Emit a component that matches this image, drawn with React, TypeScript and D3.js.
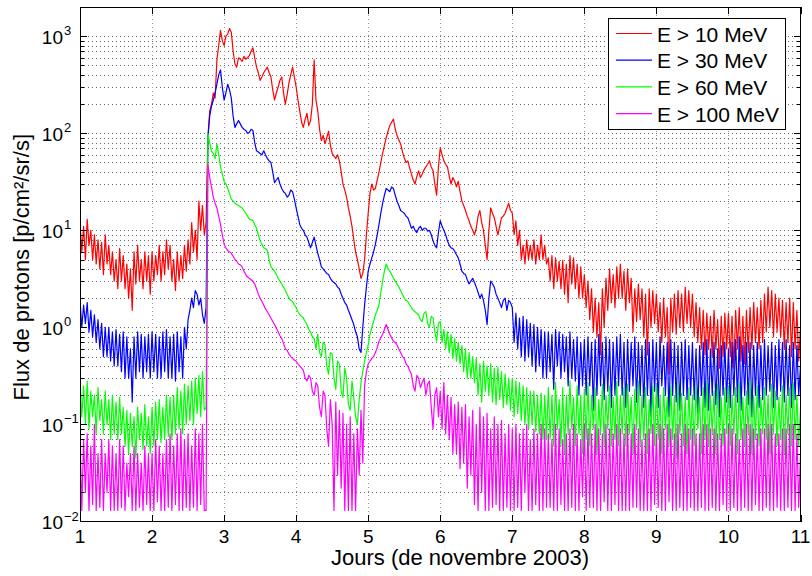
import * as d3 from "d3";

const dayStart = 1;
const dayStep = 0.025;

const xTicks = [1, 2, 3, 4, 5, 6, 7, 8, 9, 10, 11];
const yDecades = [-2, -1, 0, 1, 2, 3];
const labels = ["E > 10 MeV", "E > 30 MeV", "E > 60 MeV", "E > 100 MeV"];
const colors = ["#ff0000", "#0000ff", "#00ff00", "#ff00ff"];

const r10 = [
  12, 6, 11, 5, 13, 7, 10, 5, 9, 4.5, 8, 4, 7.5, 3.5, 9, 4.5, 7, 3.5, 6, 3, // 1.0
  5, 2.5, 6.5, 3, 5.5, 2.5, 4.5, 2, 4, 1.5, 6, 2.8, 7, 3, 5, 2.5, 6, 3, 5.5, 2.2, // 1.5
  6, 3, 5.5, 3.5, 7, 3, 6, 3.5, 8, 4, 7, 3, 5, 2.4, 6, 3, 5.5, 3.2, 7, 3.8, // 2.0
  8, 4.5, 12, 6, 10, 5, 20, 10, 18, 9, 12, 90, 170, 200, 260, 230, 570, 800, 1150, 900, // 2.5
  800, 1000, 1050, 1200, 1100, 700, 520, 480, 600, 580, 550, 620, 580, 600, 630, 700, 760, 600, 480, 420, // 3.0
  350, 380, 420, 450, 480, 420, 380, 280, 220, 260, 300, 350, 380, 260, 200, 250, 330, 400, 480, 380, // 3.5
  300, 220, 170, 130, 115, 140, 160, 120, 135, 200, 570, 220, 170, 110, 84, 95, 78, 90, 105, 75, // 4.0
  62, 58, 55, 60, 52, 40, 30, 26, 22, 17, 14, 11, 8, 6, 5, 4, 3.2, 3.6, 5, 9, // 4.5
  15, 24, 30, 26, 27, 33, 40, 50, 62, 75, 90, 105, 120, 130, 140, 110, 95, 85, 78, 65, // 5.0
  56, 50, 52, 44, 38, 33, 30, 36, 41, 35, 38, 42, 45, 48, 52, 45, 41, 30, 23, 45, // 5.5
  71, 60, 52, 48, 45, 36, 30, 35, 32, 28, 32, 25, 20, 18, 16, 14, 12.6, 11, 10, 9, // 6.0
  10.5, 14, 16, 12, 10, 7, 5, 10, 17, 15, 13.5, 11, 9, 11, 13.5, 14, 15, 17, 19, 16, // 6.5
  15, 9, 12.5, 7, 10, 5, 7, 4.5, 8, 5, 7, 5, 8, 4.5, 7, 5, 9, 5, 7, 4.5, // 7.0
  5.2, 3, 5.5, 2.5, 5.2, 3, 4.8, 2.5, 4.9, 2.2, 4.5, 1.8, 5.5, 2.8, 5.2, 2.5, 4.5, 2, 4.2, 2, // 7.5
  3.5, 1.6, 3, 1.2, 2.5, 0.9, 2, 0.8, 1.8, 0.52, 2.5, 1.0, 3.2, 1.5, 4, 1.8, 3.5, 1.6, 4.2, 2, // 8.0
  4.5, 2, 3.8, 1.5, 4, 1.8, 3.2, 0.9, 2.5, 1.15, 2.8, 1.2, 2.5, 0.8, 2.2, 0.52, 2.5, 1, 2.4, 1.1, // 8.5
  2.2, 0.9, 1.8, 0.7, 2, 0.8, 1.6, 0.33, 2, 0.9, 2.2, 0.85, 2.4, 1, 2.2, 0.9, 2.6, 1.1, 2.4, 1, // 9.0
  2.2, 0.8, 1.8, 0.7, 1.6, 0.6, 1.5, 0.52, 1.4, 0.6, 1.3, 0.5, 1.5, 0.6, 1.2, 0.38, 1.3, 0.5, 1.4, 0.6, // 9.5
  1.4, 0.5, 1.3, 0.38, 1.5, 0.6, 1.6, 0.45, 1.3, 0.42, 1.5, 0.55, 1.6, 0.6, 1.8, 0.7, 1.6, 0.6, 1.9, 0.7, // 10.0
  2.2, 0.9, 2.6, 1, 2.4, 0.8, 2.2, 0.9, 2, 0.8, 1.9, 0.6, 1.8, 0.7, 2, 0.5, 1.8, 0.6, 1.5, 0.45, // 10.5
  1.0,
];

const r30 = [
  1.9, 1.0, 1.7, 1.1, 1.8, 0.9, 1.5, 0.8, 1.35, 0.7, 1.2, 0.6, 1.1, 0.5, 1.0, 0.5, 1.0, 0.45, 0.9, 0.4, // 1.0
  0.95, 0.4, 0.85, 0.35, 0.9, 0.3, 0.8, 0.3, 0.6, 0.17, 0.8, 0.3, 0.9, 0.35, 0.85, 0.3, 0.8, 0.35, 0.85, 0.3, // 1.5
  0.9, 0.35, 0.85, 0.3, 0.8, 0.3, 0.9, 0.35, 0.95, 0.3, 0.8, 0.3, 0.85, 0.28, 0.9, 0.35, 0.8, 0.3, 1.0, 0.6, // 2.0
  1.2, 1.5, 2.0, 1.6, 2.4, 2.2, 1.7, 2.0, 1.35, 1.1, 1.6, 90, 150, 190, 220, 260, 320, 400, 450, 300, // 2.5
  220, 260, 320, 280, 230, 150, 115, 125, 135, 125, 115, 110, 107, 100, 102, 110, 107, 80, 66, 64, // 3.0
  62, 60, 66, 60, 55, 52, 50, 40, 31, 33, 35, 30, 27, 25, 24, 22, 23, 26, 25, 21, // 3.5
  17, 14, 11.5, 10.5, 10, 9, 8.5, 7.5, 6.6, 7.5, 8.5, 7, 5.8, 5, 4.2, 4, 3.8, 3.6, 3.5, 3.2, // 4.0
  3.0, 2.9, 2.8, 2.6, 2.5, 2.2, 2.0, 1.8, 1.7, 1.5, 1.35, 1.2, 1.07, 0.9, 0.8, 0.6, 0.55, 1.0, 1.7, 2.6, // 4.5
  3.8, 4.5, 5.2, 6, 7.2, 9, 11.5, 15, 19, 23, 27, 26, 25, 28, 27, 23, 20, 18, 16, 15.5, // 5.0
  15, 14, 13.5, 12, 10.5, 11, 10, 9.5, 10.5, 11, 10, 10.5, 10.5, 9.8, 10, 9, 7.8, 7, 6.6, 9.5, // 5.5
  12.6, 11, 10, 9, 7.8, 7, 6.6, 6.5, 6.1, 5.6, 5.2, 4.5, 3.8, 3.6, 3.5, 3.1, 2.8, 3.0, 3.2, 2.9, // 6.0
  2.6, 2.3, 2.0, 2.2, 1.9, 1.5, 1.07, 2.0, 3.0, 2.8, 2.6, 2.2, 2.0, 1.8, 1.6, 1.9, 2.0, 1.5, 1.9, 1.8, // 6.5
  1.6, 0.7, 1.4, 0.6, 1.25, 0.5, 1.3, 0.45, 1.2, 0.5, 1.1, 0.4, 1.07, 0.35, 1.0, 0.4, 0.95, 0.3, 0.9, 0.3, // 7.0
  0.9, 0.35, 0.85, 0.23, 0.95, 0.4, 0.9, 0.3, 0.85, 0.35, 0.8, 0.25, 0.9, 0.3, 0.75, 0.28, 0.8, 0.2, 0.7, 0.25, // 7.5
  0.75, 0.2, 0.8, 0.25, 0.7, 0.14, 0.75, 0.2, 0.85, 0.25, 0.7, 0.18, 0.8, 0.22, 0.75, 0.15, 0.7, 0.2, 0.8, 0.25, // 8.0
  0.85, 0.2, 0.7, 0.15, 0.75, 0.22, 0.7, 0.25, 0.8, 0.17, 0.7, 0.2, 0.65, 0.15, 0.75, 0.2, 0.7, 0.12, 0.75, 0.22, // 8.5
  0.7, 0.15, 0.8, 0.25, 0.65, 0.2, 0.7, 0.12, 0.75, 0.2, 0.7, 0.17, 0.65, 0.14, 0.7, 0.2, 0.75, 0.18, 0.65, 0.2, // 9.0
  0.7, 0.18, 0.6, 0.13, 0.65, 0.2, 0.7, 0.15, 0.75, 0.14, 0.6, 0.2, 0.7, 0.16, 0.6, 0.12, 0.65, 0.2, 0.7, 0.17, // 9.5
  0.6, 0.15, 0.7, 0.2, 0.75, 0.17, 0.8, 0.14, 0.65, 0.2, 0.7, 0.16, 0.7, 0.12, 0.65, 0.2, 0.7, 0.15, 0.65, 0.18, // 10.0
  0.75, 0.2, 0.65, 0.22, 0.7, 0.15, 0.65, 0.18, 0.75, 0.22, 0.7, 0.17, 0.75, 0.2, 0.65, 0.15, 0.7, 0.18, 0.65, 0.2, // 10.5
  0.4,
];

const r60 = [
  0.3, 0.12, 0.25, 0.1, 0.28, 0.09, 0.22, 0.12, 0.2, 0.08, 0.24, 0.11, 0.18, 0.08, 0.22, 0.1, 0.18, 0.07, 0.2, 0.08, // 1.0
  0.17, 0.07, 0.19, 0.08, 0.15, 0.06, 0.14, 0.05, 0.13, 0.06, 0.12, 0.045, 0.15, 0.07, 0.13, 0.055, 0.16, 0.06, 0.12, 0.05, // 1.5
  0.15, 0.06, 0.17, 0.07, 0.18, 0.065, 0.15, 0.07, 0.2, 0.075, 0.19, 0.07, 0.2, 0.08, 0.24, 0.09, 0.22, 0.08, 0.26, 0.1, // 2.0
  0.25, 0.11, 0.28, 0.1, 0.3, 0.13, 0.32, 0.12, 0.35, 0.14, 0.15, 100, 80, 65, 62, 55, 78, 60, 45, 38, // 2.5
  32, 30, 27, 24, 21, 20, 19, 18.5, 18, 17.5, 17, 16, 15, 14, 13, 12.8, 12.6, 11.5, 10.5, 9, // 3.0
  7.8, 7.2, 6.6, 6.5, 6.2, 5, 4.2, 4, 3.8, 3.5, 3.2, 3, 2.8, 2.6, 2.4, 2.2, 2.0, 1.9, 1.85, 1.7, // 3.5
  1.6, 1.45, 1.35, 1.3, 1.25, 1.15, 1.07, 0.95, 0.9, 0.8, 0.77, 0.6, 0.85, 0.55, 0.5, 0.7, 0.66, 0.4, 0.33, 0.55, // 4.0
  0.53, 0.3, 0.23, 0.45, 0.42, 0.22, 0.19, 0.38, 0.3, 0.16, 0.14, 0.28, 0.19, 0.12, 0.1, 0.18, 0.27, 0.35, 0.45, 0.55, // 4.5
  0.66, 0.85, 1.0, 1.15, 1.35, 1.5, 1.7, 2.3, 3.0, 3.8, 4.5, 4.0, 3.8, 3.5, 3.2, 3.0, 2.8, 2.6, 2.4, 2.2, // 5.0
  2.0, 1.9, 1.85, 1.7, 1.6, 1.5, 1.45, 1.4, 1.35, 1.2, 1.15, 1.4, 1.45, 1.1, 1.0, 1.3, 1.25, 0.9, 0.72, 1.1, // 5.5
  1.15, 0.7, 0.95, 0.6, 0.9, 0.55, 0.85, 0.48, 0.77, 0.45, 0.7, 0.42, 0.65, 0.35, 0.6, 0.3, 0.55, 0.3, 0.5, 0.27, // 6.0
  0.48, 0.2, 0.42, 0.17, 0.45, 0.22, 0.4, 0.2, 0.42, 0.17, 0.38, 0.16, 0.39, 0.18, 0.35, 0.15, 0.33, 0.16, 0.3, 0.14, // 6.5
  0.3, 0.12, 0.28, 0.13, 0.27, 0.11, 0.25, 0.1, 0.24, 0.09, 0.22, 0.1, 0.22, 0.085, 0.2, 0.08, 0.21, 0.07, 0.2, 0.07, // 7.0
  0.24, 0.07, 0.2, 0.06, 0.27, 0.09, 0.18, 0.06, 0.24, 0.05, 0.2, 0.08, 0.28, 0.09, 0.19, 0.06, 0.25, 0.08, 0.2, 0.05, // 7.5
  0.23, 0.07, 0.27, 0.06, 0.2, 0.09, 0.24, 0.05, 0.18, 0.08, 0.26, 0.06, 0.2, 0.09, 0.25, 0.06, 0.19, 0.07, 0.28, 0.06, // 8.0
  0.2, 0.08, 0.24, 0.06, 0.26, 0.08, 0.19, 0.05, 0.23, 0.09, 0.28, 0.06, 0.2, 0.07, 0.24, 0.05, 0.18, 0.08, 0.25, 0.06, // 8.5
  0.26, 0.07, 0.2, 0.05, 0.24, 0.09, 0.19, 0.06, 0.25, 0.07, 0.2, 0.045, 0.27, 0.08, 0.21, 0.06, 0.19, 0.05, 0.24, 0.07, // 9.0
  0.2, 0.06, 0.25, 0.09, 0.19, 0.05, 0.24, 0.07, 0.28, 0.06, 0.2, 0.08, 0.22, 0.05, 0.26, 0.07, 0.19, 0.06, 0.24, 0.08, // 9.5
  0.25, 0.06, 0.2, 0.08, 0.24, 0.05, 0.27, 0.07, 0.19, 0.06, 0.22, 0.08, 0.28, 0.05, 0.2, 0.07, 0.25, 0.06, 0.19, 0.08, // 10.0
  0.24, 0.07, 0.2, 0.05, 0.26, 0.08, 0.22, 0.06, 0.19, 0.07, 0.25, 0.05, 0.2, 0.08, 0.24, 0.06, 0.27, 0.07, 0.2, 0.06, // 10.5
  0.15,
];

const r100 = [
  0.09, 0.013, 0.07, 0.02, 0.08, 0.013, 0.06, 0.015, 0.1, 0.013, 0.05, 0.014, 0.07, 0.013, 0.05, 0.02, 0.07, 0.013, 0.06, 0.013, // 1.0
  0.05, 0.013, 0.07, 0.014, 0.06, 0.013, 0.04, 0.018, 0.05, 0.013, 0.06, 0.013, 0.05, 0.014, 0.04, 0.013, 0.06, 0.015, 0.05, 0.013, // 1.5
  0.05, 0.013, 0.07, 0.016, 0.06, 0.013, 0.05, 0.013, 0.07, 0.014, 0.08, 0.013, 0.06, 0.015, 0.08, 0.013, 0.09, 0.013, 0.07, 0.014, // 2.0
  0.08, 0.013, 0.06, 0.014, 0.09, 0.013, 0.08, 0.015, 0.1, 0.013, 0.013, 48, 35, 28, 22, 19, 17, 14, 11.5, 9, // 2.5
  7.2, 6.6, 6.2, 6.0, 5.8, 5.4, 5.0, 4.8, 4.5, 4.4, 4.2, 3.8, 3.5, 3.3, 3.2, 3.1, 3.0, 2.8, 2.5, 2.2, // 3.0
  2.0, 1.85, 1.7, 1.55, 1.45, 1.35, 1.25, 1.15, 1.07, 0.98, 0.9, 0.82, 0.77, 0.68, 0.6, 0.58, 0.53, 0.5, 0.48, 0.46, // 3.5
  0.45, 0.42, 0.4, 0.38, 0.36, 0.3, 0.28, 0.32, 0.3, 0.22, 0.2, 0.27, 0.25, 0.15, 0.12, 0.22, 0.2, 0.09, 0.06, 0.18, // 4.0
  0.1, 0.013, 0.17, 0.03, 0.14, 0.022, 0.13, 0.013, 0.1, 0.013, 0.12, 0.013, 0.08, 0.013, 0.09, 0.03, 0.14, 0.04, 0.25, 0.35, // 4.5
  0.42, 0.45, 0.48, 0.5, 0.55, 0.62, 0.72, 0.78, 0.85, 0.95, 1.07, 0.95, 0.85, 0.78, 0.72, 0.7, 0.66, 0.6, 0.55, 0.5, // 5.0
  0.48, 0.42, 0.4, 0.36, 0.33, 0.25, 0.22, 0.32, 0.3, 0.24, 0.27, 0.3, 0.2, 0.26, 0.28, 0.15, 0.09, 0.2, 0.24, 0.12, // 5.5
  0.22, 0.09, 0.27, 0.08, 0.2, 0.07, 0.19, 0.05, 0.16, 0.05, 0.17, 0.035, 0.15, 0.04, 0.16, 0.022, 0.12, 0.03, 0.14, 0.015, // 6.0
  0.1, 0.013, 0.15, 0.02, 0.12, 0.013, 0.13, 0.013, 0.09, 0.014, 0.12, 0.015, 0.1, 0.013, 0.11, 0.013, 0.08, 0.014, 0.1, 0.013, // 6.5
  0.09, 0.013, 0.1, 0.014, 0.08, 0.013, 0.09, 0.02, 0.1, 0.013, 0.07, 0.013, 0.09, 0.015, 0.08, 0.013, 0.1, 0.013, 0.09, 0.014, // 7.0
  0.08, 0.014, 0.07, 0.013, 0.1, 0.013, 0.09, 0.015, 0.07, 0.013, 0.08, 0.013, 0.09, 0.014, 0.1, 0.013, 0.08, 0.013, 0.07, 0.018, // 7.5
  0.1, 0.013, 0.09, 0.014, 0.08, 0.014, 0.1, 0.013, 0.09, 0.013, 0.08, 0.016, 0.1, 0.013, 0.09, 0.013, 0.08, 0.015, 0.1, 0.013, // 8.0
  0.09, 0.013, 0.08, 0.013, 0.1, 0.013, 0.08, 0.014, 0.1, 0.014, 0.09, 0.013, 0.07, 0.013, 0.08, 0.013, 0.09, 0.013, 0.1, 0.015, // 8.5
  0.08, 0.014, 0.1, 0.013, 0.09, 0.013, 0.1, 0.016, 0.09, 0.013, 0.08, 0.013, 0.1, 0.014, 0.08, 0.013, 0.1, 0.013, 0.09, 0.014, // 9.0
  0.09, 0.013, 0.08, 0.013, 0.08, 0.014, 0.1, 0.013, 0.1, 0.013, 0.09, 0.014, 0.09, 0.013, 0.08, 0.013, 0.08, 0.015, 0.09, 0.013, // 9.5
  0.1, 0.013, 0.09, 0.014, 0.08, 0.013, 0.07, 0.013, 0.09, 0.014, 0.1, 0.013, 0.1, 0.013, 0.09, 0.015, 0.08, 0.013, 0.09, 0.013, // 10.0
  0.09, 0.014, 0.1, 0.013, 0.1, 0.013, 0.08, 0.014, 0.08, 0.013, 0.09, 0.013, 0.09, 0.014, 0.1, 0.013, 0.1, 0.013, 0.08, 0.014, // 10.5
  0.05,
];

const seriesValues = [r10, r30, r60, r100];

const W = 812;
const H = 576;
const left = 80;
const right = 800.5;
const top = 7;
const bottom = 521.5;
const font = "'Liberation Sans', Arial, Helvetica, sans-serif";

export default function App() {
  const x = d3.scaleLinear().domain([1, 11]).range([left, right]);
  const y = d3.scaleLog().domain([0.01, 2000]).range([bottom, top]);

  const line = d3
    .line<number>()
    .x((_, i) => x(dayStart + i * dayStep))
    .y((v) => y(v));

  // log grid: 1..9 x 10^k inside the domain
  const minor: number[] = [];
  yDecades.forEach((k) => {
    for (let m = 1; m <= 9; m++) {
      const v = m * Math.pow(10, k);
      if (v > 0.01 && v < 2000) minor.push(v);
    }
  });
  const px = (v: number) => Math.round(v) + 0.5;

  return (
    <svg
      width={W}
      height={H}
      style={{ position: "absolute", left: 0, top: 0, background: "#fff" }}
      fontFamily={font}
    >
      <rect x={0} y={0} width={W} height={H} fill="#fff" />

      {/* grid */}
      <g stroke="#666" strokeWidth={1} strokeDasharray="1,3" shapeRendering="crispEdges">
        {minor.map((v) => (
          <line key={"gy" + v} x1={left} x2={right} y1={px(y(v))} y2={px(y(v))} />
        ))}
        {xTicks.slice(1, -1).map((d) => (
          <line key={"gx" + d} x1={px(x(d))} x2={px(x(d))} y1={top} y2={bottom} stroke="#999" />
        ))}
      </g>

      {/* data */}
      <defs>
        <clipPath id="plotArea">
          <rect x={left} y={top} width={right - left} height={bottom - top} />
        </clipPath>
      </defs>
      <g clipPath="url(#plotArea)" fill="none" strokeWidth={1.2} strokeLinejoin="round">
        {seriesValues.map((vals, i) => (
          <path key={labels[i]} d={line(vals) || ""} stroke={colors[i]} />
        ))}
      </g>

      {/* ticks */}
      <g stroke="#000" strokeWidth={1} shapeRendering="crispEdges">
        {minor.map((v) => {
          const isMajor = Math.abs(Math.log10(v) - Math.round(Math.log10(v))) < 1e-9;
          const len = isMajor ? 7 : 4;
          return (
            <g key={"ty" + v}>
              <line x1={left} x2={left + len} y1={px(y(v))} y2={px(y(v))} />
              <line x1={right - len} x2={right} y1={px(y(v))} y2={px(y(v))} />
            </g>
          );
        })}
        {xTicks.map((d) => (
          <g key={"tx" + d}>
            <line x1={px(x(d))} x2={px(x(d))} y1={bottom} y2={bottom - 7} />
            <line x1={px(x(d))} x2={px(x(d))} y1={top} y2={top + 7} />
          </g>
        ))}
        <rect x={left} y={top} width={right - left} height={bottom - top} fill="none" />
      </g>

      {/* x tick labels */}
      <g fontSize={19} textAnchor="middle" fill="#000">
        {xTicks.map((d) => (
          <text key={"lx" + d} x={x(d)} y={543}>
            {d}
          </text>
        ))}
      </g>

      {/* y tick labels */}
      <g fill="#000">
        {yDecades.map((k) => (
          <g key={"ly" + k}>
            <text x={63} y={y(Math.pow(10, k)) + 7.5} fontSize={19} textAnchor="end">
              10
            </text>
            <text x={64} y={y(Math.pow(10, k)) - 1} fontSize={13} textAnchor="start">
              {k < 0 ? "\u2212" + Math.abs(k) : k}
            </text>
          </g>
        ))}
      </g>

      {/* axis labels */}
      <text x={460} y={565} fontSize={22} textAnchor="middle" fill="#000">
        Jours (de novembre 2003)
      </text>
      <text
        transform={`translate(29, ${(top + bottom) / 2 + 3}) rotate(-90)`}
        fontSize={22}
        textAnchor="middle"
        fill="#000"
      >
        Flux de protons [p/cm²/sr/s]
      </text>

      {/* legend */}
      <g>
        <rect x={608.5} y={18.5} width={177} height={111} fill="#fff" stroke="#000" strokeWidth={1} />
        {labels.map((lab, i) => {
          const ly = 33.5 + i * 26.7;
          return (
            <g key={"lg" + lab}>
              <line x1={616} x2={652} y1={ly} y2={ly} stroke={colors[i]} strokeWidth={1.2} />
              <text x={657} y={ly + 8} fontSize={21} fill="#000">
                {lab}
              </text>
            </g>
          );
        })}
      </g>
    </svg>
  );
}
